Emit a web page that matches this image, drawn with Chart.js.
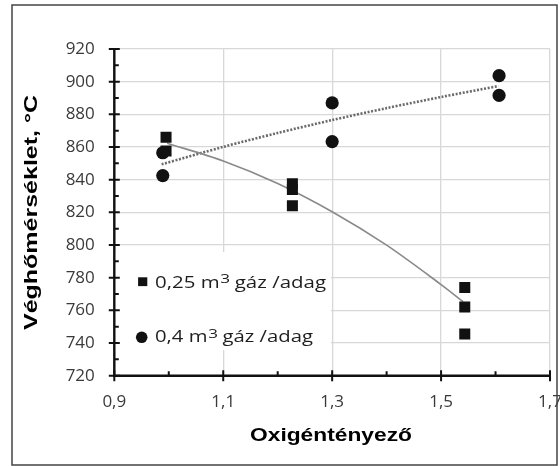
<!DOCTYPE html>
<html>
<head>
<meta charset="utf-8">
<script src="https://cdn.jsdelivr.net/npm/chart.js@4.4.1/dist/chart.umd.min.js"></script>
<style>
  html, body { margin: 0; padding: 0; background: #fff; }
  #wrap { width: 560px; height: 466px; position: relative; }
</style>
</head>
<body>
<div id="wrap"><canvas id="chart" width="560" height="466"></canvas></div>
<script>
// measured points, 0.25 m3 gas per batch (squares)
const gas025X = [0.995, 0.995, 1.227, 1.227, 1.227, 1.5435, 1.5435, 1.5435];
const gas025Y = [866, 857.5, 837.5, 834, 824, 774, 762, 745.5];
// measured points, 0.4 m3 gas per batch (circles)
const gas04X = [0.989, 0.989, 1.3, 1.3, 1.6065, 1.6065];
const gas04Y = [856.5, 842.5, 887, 863.3, 903.7, 891.6];
// trend lines
const trend025X = [0.997, 1.1, 1.2, 1.3, 1.4, 1.5, 1.5405];
const trend025Y = [862.3, 851.5, 837.7, 820.4, 799.9, 775.8, 765.3];
const trend04X = [0.987, 1.1, 1.2, 1.3, 1.4, 1.5, 1.605];
const trend04Y = [849.4, 860.1, 868.6, 876.5, 883.8, 890.6, 897.3];

// axes
const xMin = 0.9, xMax = 1.7, xStep = 0.2;
const yMin = 720, yMax = 920, yStep = 20;
const xMinorTicks = [1.0, 1.2, 1.4, 1.6];
const yMinorTicks = [730, 750, 770, 790, 810, 830, 850, 870, 890, 910];

const xTitle = "Oxigéntényező";
const yTitle = "Véghőmérséklet, °C";
const legendLabels = [
  ["0,25 m", "3", " gáz /adag"],
  ["0,4 m", "3", " gáz /adag"],
];

const pts = (xs, ys) => xs.map((x, i) => ({ x, y: ys[i] }));
const comma = (v, d) => Number(v).toFixed(d).replace(".", ",");

// draw text squeezed/stretched along its direction to a target width
function fitText(ctx, text, x, y, width) {
  const w = ctx.measureText(text).width;
  ctx.save();
  ctx.translate(x, y);
  ctx.scale(width / w, 1);
  ctx.textAlign = "left";
  ctx.fillText(text, -w / 2, 0);
  ctx.restore();
}

function drawLegendEntry(ctx, parts, x, baseline, width) {
  const mainFont = "15.5px 'Open Sans'";
  const supFont = "13px 'Open Sans'";
  ctx.font = mainFont;
  const w1 = ctx.measureText(parts[0]).width;
  const w3 = ctx.measureText(parts[2]).width;
  ctx.font = supFont;
  const w2 = ctx.measureText(parts[1]).width;
  const sx = width / (w1 + w2 + w3);
  ctx.save();
  ctx.translate(x, baseline);
  ctx.scale(sx, 1);
  ctx.fillStyle = "#1e1e1e";
  ctx.textAlign = "left";
  ctx.textBaseline = "alphabetic";
  ctx.font = mainFont;
  ctx.fillText(parts[0], 0, 0);
  ctx.font = supFont;
  ctx.fillText(parts[1], w1 + 0.5, -4.5);
  ctx.font = mainFont;
  ctx.fillText(parts[2], w1 + w2, 0);
  ctx.restore();
}

const decor = {
  id: "decor",
  beforeDatasetsDraw(chart) {
    const { ctx, chartArea: a, scales: { x, y } } = chart;
    ctx.save();
    // legend box hides the grid behind it
    ctx.fillStyle = "#fff";
    ctx.fillRect(a.left + 1, 252, 330 - a.left, 98);
    ctx.fillStyle = "#111";
    ctx.fillRect(142.7 - 4.6, 281.7 - 4.4, 9.2, 8.8);
    ctx.beginPath();
    ctx.arc(141.7, 337.3, 5.8, 0, Math.PI * 2);
    ctx.fill();
    drawLegendEntry(ctx, legendLabels[0], 155, 287.5, 171);
    drawLegendEntry(ctx, legendLabels[1], 155, 342, 158);

    // axis lines with major / minor ticks
    ctx.strokeStyle = "#111";
    ctx.lineWidth = 2.4;
    ctx.beginPath();
    ctx.moveTo(a.left, a.top - 1);
    ctx.lineTo(a.left, a.bottom);
    ctx.lineTo(a.right + 1, a.bottom);
    ctx.stroke();
    ctx.lineWidth = 2;
    ctx.beginPath();
    for (let v = yMin; v <= yMax; v += yStep) {
      const py = y.getPixelForValue(v);
      ctx.moveTo(a.left - 5.5, py);
      ctx.lineTo(a.left + 5.5, py);
    }
    yMinorTicks.forEach((v) => {
      const py = y.getPixelForValue(v);
      ctx.moveTo(a.left, py);
      ctx.lineTo(a.left + 4.5, py);
    });
    for (let i = 0; i <= Math.round((xMax - xMin) / xStep); i++) {
      const px = x.getPixelForValue(xMin + i * xStep);
      ctx.moveTo(px, a.bottom - 5.5);
      ctx.lineTo(px, a.bottom + 5.5);
    }
    xMinorTicks.forEach((v) => {
      const px = x.getPixelForValue(v);
      ctx.moveTo(px, a.bottom - 4.5);
      ctx.lineTo(px, a.bottom);
    });
    ctx.stroke();
    ctx.restore();
  },
  afterDraw(chart) {
    const { ctx } = chart;
    ctx.save();
    ctx.fillStyle = "#000";
    ctx.textBaseline = "alphabetic";
    ctx.font = "bold 18.5px 'Liberation Sans', Arial, sans-serif";
    fitText(ctx, xTitle, 331, 440.7, 162);
    ctx.save();
    ctx.translate(37, 212.5);
    ctx.rotate(-Math.PI / 2);
    fitText(ctx, yTitle, 0, 0, 235);
    ctx.restore();
    // outer frame
    ctx.strokeStyle = "#444";
    ctx.lineWidth = 1.5;
    ctx.strokeRect(12, 5, 545, 460);
    ctx.restore();
  },
};

new Chart(document.getElementById("chart"), {
  type: "scatter",
  data: {
    datasets: [
      {
        label: "0,25 m3 gáz /adag",
        data: pts(gas025X, gas025Y),
        pointStyle: "rect",
        pointRadius: 7.8,
        backgroundColor: "#111",
        borderWidth: 0,
        order: 0,
      },
      {
        label: "0,4 m3 gáz /adag",
        data: pts(gas04X, gas04Y),
        pointStyle: "circle",
        pointRadius: 6.6,
        backgroundColor: "#111",
        borderWidth: 0,
        order: 0,
      },
      {
        label: "trend 0,25",
        data: pts(trend025X, trend025Y),
        showLine: true,
        pointRadius: 0,
        borderColor: "#8a8a8a",
        borderWidth: 1.6,
        tension: 0.3,
        order: 1,
      },
      {
        label: "trend 0,4",
        data: pts(trend04X, trend04Y),
        showLine: true,
        pointRadius: 0,
        borderColor: "#6a6a6a",
        borderWidth: 2.6,
        borderDash: [2, 1.6],
        tension: 0.3,
        order: 1,
      },
    ],
  },
  options: {
    responsive: false,
    animation: false,
    devicePixelRatio: 1,
    layout: { padding: { top: 49, right: 10, bottom: 0, left: 0 } },
    plugins: { legend: { display: false }, tooltip: { enabled: false } },
    scales: {
      x: {
        type: "linear",
        min: xMin,
        max: xMax,
        border: { display: false },
        grid: { color: "#d8d8d8", lineWidth: 1.3, drawTicks: false },
        ticks: {
          stepSize: xStep,
          padding: 16,
          color: "#3a3a3a",
          font: { family: "'Open Sans'", size: 17 },
          callback: (v) => comma(v, 1),
        },
        afterFit: (s) => { s.height = 90.3; s.paddingRight = 0; },
      },
      y: {
        min: yMin,
        max: yMax,
        border: { display: false },
        grid: { color: "#d8d8d8", lineWidth: 1.3, drawTicks: false },
        ticks: {
          stepSize: yStep,
          padding: 19.5,
          color: "#3a3a3a",
          font: { family: "'Open Sans'", size: 17 },
          callback: (v) => String(v),
        },
        afterFit: (s) => { s.width = 114.3; },
      },
    },
  },
  plugins: [decor],
});
</script>
</body>
</html>
